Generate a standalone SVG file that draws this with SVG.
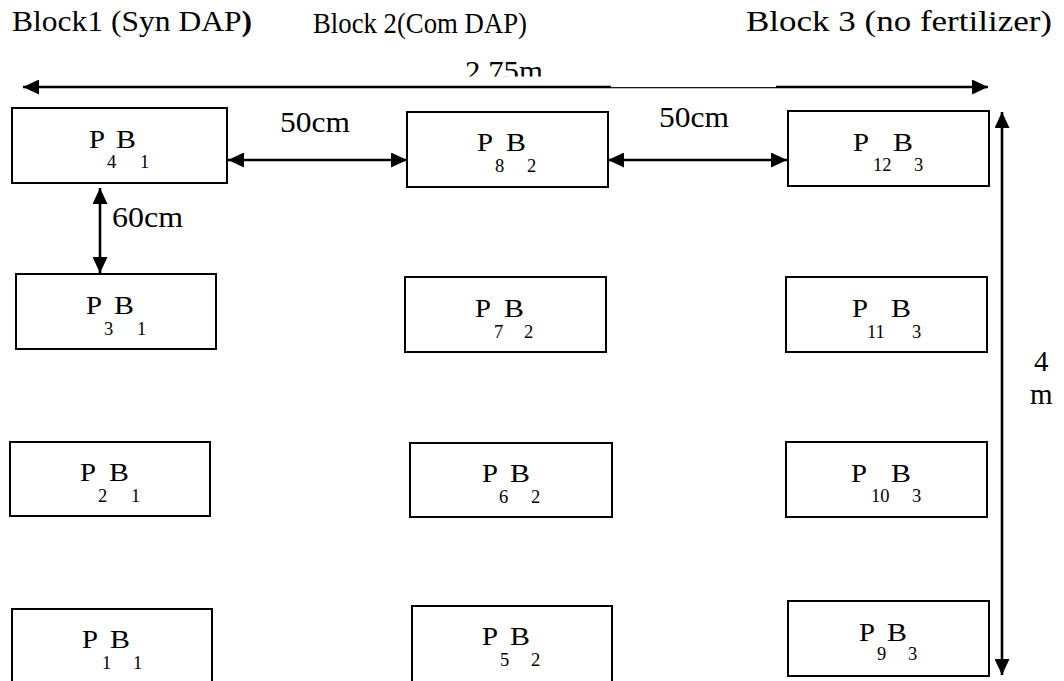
<svg xmlns="http://www.w3.org/2000/svg" width="1064" height="681" viewBox="0 0 1064 681">
  <style>
    text { font-family: "Liberation Serif", "Times New Roman", serif; fill: #000; }
    .title { font-size: 29px; }
    .dim { font-size: 29px; }
    .lbl { font-size: 25px; }
    .sub { font-size: 18.5px; }
    .plot { fill: #fff; stroke: #000; stroke-width: 2; }
    .arrow { fill: none; stroke: #000; stroke-width: 2.6; marker-start: url(#head); marker-end: url(#head); }
  </style>
  <defs>
    <marker id="head" markerUnits="userSpaceOnUse" markerWidth="16" markerHeight="15" refX="16" refY="7.5" orient="auto-start-reverse">
      <path d="M0,0 L16,7.5 L0,15 Z" fill="#000"/>
    </marker>
    <clipPath id="dimClip">
      <rect x="440" y="40" width="130" height="36.5"/>
    </clipPath>
  </defs>
  <rect width="1064" height="681" fill="#fff"/>

  <!-- block headings -->
  <g id="headings">
    <text class="title" x="12" y="31" textLength="240" lengthAdjust="spacingAndGlyphs">Block1 (Syn DAP<tspan font-weight="bold">)</tspan></text>
    <text class="title" x="313" y="33" textLength="214" lengthAdjust="spacingAndGlyphs">Block 2(Com DAP)</text>
    <text class="title" x="746" y="31" textLength="306" lengthAdjust="spacingAndGlyphs">Block 3 (no fertilizer)</text>
  </g>

  <!-- dimension connectors -->
  <g id="connectors">
    <path class="arrow" d="M23,87 H988"/>
    <rect x="611" y="84.5" width="165" height="2.6" fill="#fff"/>
    <path class="arrow" d="M228,160 H407"/>
    <path class="arrow" d="M608,160 H787"/>
    <path class="arrow" d="M100,188 V273"/>
    <path class="arrow" d="M1002,112 V675"/>
  </g>

  <!-- dimension labels -->
  <g id="dimension-labels">
    <text class="dim" x="465" y="80.5" font-size="31" textLength="78" lengthAdjust="spacingAndGlyphs" clip-path="url(#dimClip)">2.75m</text>
    <text class="dim" x="280" y="132" textLength="70" lengthAdjust="spacingAndGlyphs">50cm</text>
    <text class="dim" x="659" y="127" textLength="70" lengthAdjust="spacingAndGlyphs">50cm</text>
    <text class="dim" x="112" y="227" textLength="71" lengthAdjust="spacingAndGlyphs">60cm</text>
    <text class="dim" x="1034" y="371">4</text>
    <text class="dim" x="1030" y="404">m</text>
  </g>

  <!-- plots: row 1 -->
  <g id="P4B1">
    <rect class="plot" x="12" y="108" width="215" height="75"/>
    <text class="lbl" x="89" y="148" textLength="16" lengthAdjust="spacingAndGlyphs">P</text>
    <text class="lbl" x="116" y="148" textLength="20" lengthAdjust="spacingAndGlyphs">B</text>
    <text class="sub" x="107" y="168">4</text>
    <text class="sub" x="140" y="168">1</text>
  </g>
  <g id="P8B2">
    <rect class="plot" x="407" y="112" width="201" height="75"/>
    <text class="lbl" x="477" y="151" textLength="16" lengthAdjust="spacingAndGlyphs">P</text>
    <text class="lbl" x="506" y="151" textLength="20" lengthAdjust="spacingAndGlyphs">B</text>
    <text class="sub" x="495" y="172">8</text>
    <text class="sub" x="527" y="172">2</text>
  </g>
  <g id="P12B3">
    <rect class="plot" x="788" y="111" width="201" height="75"/>
    <text class="lbl" x="853" y="151" textLength="16" lengthAdjust="spacingAndGlyphs">P</text>
    <text class="lbl" x="893" y="151" textLength="20" lengthAdjust="spacingAndGlyphs">B</text>
    <text class="sub" x="873" y="171">12</text>
    <text class="sub" x="914" y="171">3</text>
  </g>

  <!-- plots: row 2 -->
  <g id="P3B1">
    <rect class="plot" x="16" y="274" width="200" height="75"/>
    <text class="lbl" x="86" y="314" textLength="16" lengthAdjust="spacingAndGlyphs">P</text>
    <text class="lbl" x="114" y="314" textLength="20" lengthAdjust="spacingAndGlyphs">B</text>
    <text class="sub" x="104" y="335">3</text>
    <text class="sub" x="137" y="335">1</text>
  </g>
  <g id="P7B2">
    <rect class="plot" x="405" y="277" width="201" height="75"/>
    <text class="lbl" x="475" y="317" textLength="16" lengthAdjust="spacingAndGlyphs">P</text>
    <text class="lbl" x="504" y="317" textLength="20" lengthAdjust="spacingAndGlyphs">B</text>
    <text class="sub" x="494" y="338">7</text>
    <text class="sub" x="524" y="338">2</text>
  </g>
  <g id="P11B3">
    <rect class="plot" x="786" y="277" width="201" height="75"/>
    <text class="lbl" x="852" y="317" textLength="16" lengthAdjust="spacingAndGlyphs">P</text>
    <text class="lbl" x="891" y="317" textLength="20" lengthAdjust="spacingAndGlyphs">B</text>
    <text class="sub" x="867" y="338">11</text>
    <text class="sub" x="912" y="338">3</text>
  </g>

  <!-- plots: row 3 -->
  <g id="P2B1">
    <rect class="plot" x="10" y="442" width="200" height="74"/>
    <text class="lbl" x="80" y="481" textLength="16" lengthAdjust="spacingAndGlyphs">P</text>
    <text class="lbl" x="109" y="481" textLength="20" lengthAdjust="spacingAndGlyphs">B</text>
    <text class="sub" x="98" y="502">2</text>
    <text class="sub" x="131" y="502">1</text>
  </g>
  <g id="P6B2">
    <rect class="plot" x="410" y="443" width="202" height="74"/>
    <text class="lbl" x="482" y="482" textLength="16" lengthAdjust="spacingAndGlyphs">P</text>
    <text class="lbl" x="510" y="482" textLength="20" lengthAdjust="spacingAndGlyphs">B</text>
    <text class="sub" x="499" y="503">6</text>
    <text class="sub" x="531" y="503">2</text>
  </g>
  <g id="P10B3">
    <rect class="plot" x="786" y="442" width="201" height="75"/>
    <text class="lbl" x="851" y="482" textLength="16" lengthAdjust="spacingAndGlyphs">P</text>
    <text class="lbl" x="891" y="482" textLength="20" lengthAdjust="spacingAndGlyphs">B</text>
    <text class="sub" x="871" y="502">10</text>
    <text class="sub" x="912" y="502">3</text>
  </g>

  <!-- plots: row 4 (runs off the bottom edge) -->
  <g id="P1B1">
    <rect class="plot" x="12" y="609" width="200" height="80"/>
    <text class="lbl" x="82" y="648" textLength="16" lengthAdjust="spacingAndGlyphs">P</text>
    <text class="lbl" x="110" y="648" textLength="20" lengthAdjust="spacingAndGlyphs">B</text>
    <text class="sub" x="102" y="669">1</text>
    <text class="sub" x="133" y="669">1</text>
  </g>
  <g id="P5B2">
    <rect class="plot" x="412" y="606" width="200" height="80"/>
    <text class="lbl" x="482" y="645" textLength="16" lengthAdjust="spacingAndGlyphs">P</text>
    <text class="lbl" x="510" y="645" textLength="20" lengthAdjust="spacingAndGlyphs">B</text>
    <text class="sub" x="500" y="666">5</text>
    <text class="sub" x="531" y="666">2</text>
  </g>
  <g id="P9B3">
    <rect class="plot" x="788" y="601" width="201" height="75"/>
    <text class="lbl" x="859" y="641" textLength="16" lengthAdjust="spacingAndGlyphs">P</text>
    <text class="lbl" x="887" y="641" textLength="20" lengthAdjust="spacingAndGlyphs">B</text>
    <text class="sub" x="877" y="660">9</text>
    <text class="sub" x="908" y="660">3</text>
  </g>
</svg>
